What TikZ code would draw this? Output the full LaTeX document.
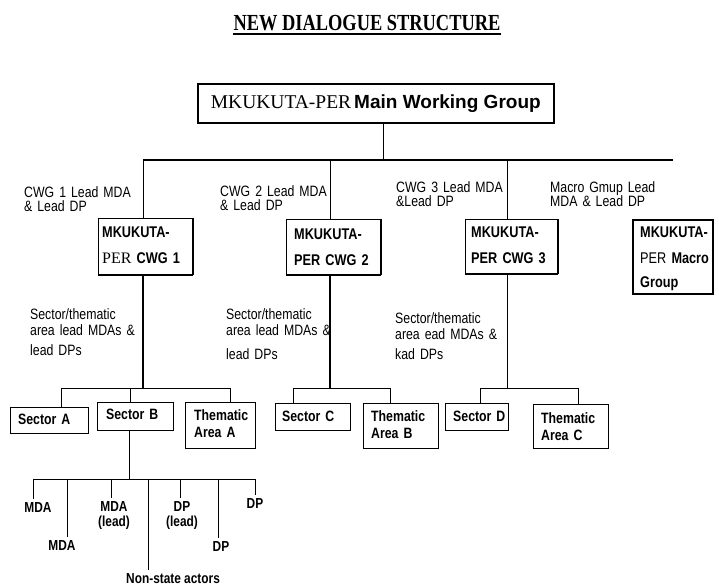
\documentclass[tikz,border=0pt]{standalone}
\usepackage{fontspec}
\setmainfont{Liberation Serif}
\newfontfamily\labfont[FakeStretch=0.82]{Liberation Sans}
\newfontfamily\mainsans{Liberation Sans}
\newfontfamily\titlefont[FakeStretch=0.8]{Liberation Serif}
\newfontfamily\serfont{Liberation Serif}
\newcommand\tightsp{\spaceskip=0.22em plus 0.05em\relax}
\begin{document}
\begin{tikzpicture}[x=1pt,y=-1pt,
  ln/.style={line width=0.9pt},
  tk/.style={line width=1.2pt},
  mainbox/.style={draw, line width=1.6pt, inner sep=0pt, anchor=north west},
  cbox/.style={draw, line width=1pt, inner sep=0pt, anchor=north west},
  sbox/.style={draw, line width=0.9pt, inner sep=0pt, anchor=north west},
  titlet/.style={font=\titlefont\bfseries\fontsize{23}{23}\selectfont, inner sep=0pt, anchor=base},
  lab/.style={font=\labfont\fontsize{15}{14}\selectfont\tightsp, align=left, text width=150pt, inner sep=0pt, anchor=base west},
  slab/.style={font=\labfont\fontsize{15}{16}\selectfont\tightsp, align=left, text width=150pt, inner sep=0pt, anchor=base west},
  btxt/.style={font=\labfont\bfseries\fontsize{15.5}{26}\selectfont\tightsp, align=left, text width=80pt, inner sep=0pt, anchor=base west},
  stxt/.style={font=\labfont\bfseries\fontsize{15}{17}\selectfont\tightsp, align=left, text width=70pt, inner sep=0pt, anchor=base west},
  ltxt/.style={font=\labfont\bfseries\fontsize{14.5}{15}\selectfont\tightsp, align=center, text width=40pt, inner sep=3pt, anchor=base},
  ntxt/.style={font=\labfont\bfseries\fontsize{14.5}{15}\selectfont\tightsp, inner sep=3pt, anchor=base west}
]
\fill[white] (0,0) rectangle (719,586);
\useasboundingbox (0,0) rectangle (719,586);

% title
\node[titlet] (title) at (367,31) {NEW DIALOGUE STRUCTURE};
\draw[line width=1.4pt] ([yshift=-3pt]title.base west) -- ([yshift=-3pt]title.base east);

% main box
\node[mainbox, minimum width=356pt, minimum height=39pt] (main) at (197,83)
  {{\serfont\fontsize{19.5}{19}\selectfont MKUKUTA-PER}\hspace{3pt}{\mainsans\bfseries\fontsize{19}{19}\selectfont Main Working Group}};

% CWG boxes
\node[cbox, minimum width=94pt, minimum height=56pt] (c1) at (98,218) {};
\node[btxt] (c1t) at (102,237) {MKUKUTA-\\{\serfont\mdseries\fontsize{16}{26}\selectfont PER} CWG 1};
\node[cbox, minimum width=94pt, minimum height=55pt] (c2) at (286,219) {};
\node[btxt] (c2t) at (294,239) {MKUKUTA-\\PER CWG 2};
\node[cbox, minimum width=92pt, minimum height=54pt] (c3) at (465,219) {};
\node[btxt] (c3t) at (471,237) {MKUKUTA-\\PER CWG 3};
\node[cbox, line width=1.6pt, minimum width=80pt, minimum height=74pt] (mac) at (632,219) {};
\node[btxt] (mact) at (640,237) {MKUKUTA-\\{\mdseries PER} Macro\\[-2pt]Group};
\foreach \b in {c1,c2,c3}{\draw[line width=2.4pt] (\b.south west) -- (\b.south east);}
\foreach \b in {c1,c2,c3}{\draw[line width=1.5pt] (\b.north east) -- (\b.south east);}

% CWG labels
\node[lab] (l1) at (24,197) {CWG 1 Lead MDA\\\& Lead DP};
\node[lab] (l2) at (220,196) {CWG 2 Lead MDA\\\& Lead DP};
\node[lab] (l3) at (396,192) {CWG 3 Lead MDA\\\&Lead DP};
\node[lab] (l4) at (550,192) {Macro Gmup Lead\\MDA \& Lead DP};

% top connectors
\coordinate (j0) at (383,160);
\coordinate (bL) at (143,160);
\coordinate (b2) at (330,160);
\coordinate (b3) at (507,160);
\coordinate (bR) at (673,160);
\draw[ln] (main.south -| j0) -- (j0);
\draw[tk] (bL) -- (bR);
\draw[ln] (bL) -- (bL |- c1.north);
\draw[ln] (b2) -- (b2 |- c2.north);
\draw[ln] (b3) -- (b3 |- c3.north);

% sector labels
\node[slab] (s1) at (30,319) {Sector/thematic\\area lead MDAs \&\\[4pt]lead DPs};
\node[slab] (s2) at (226,319) {Sector/thematic\\area lead MDAs \&\\[8pt]lead DPs};
\node[slab] (s3) at (395,323) {Sector/thematic\\area ead MDAs \&\\[4pt]kad DPs};

% sector boxes
\node[sbox, minimum width=78pt, minimum height=26pt] (secA) at (10,407) {};
\node[stxt] (secAt) at (18,424) {Sector A};
\node[sbox, minimum width=76pt, minimum height=28pt] (secB) at (97,402) {};
\node[stxt] (secBt) at (106,419) {Sector B};
\node[sbox, minimum width=70pt, minimum height=46pt] (thA) at (185,402) {};
\node[stxt] (thAt) at (194,420) {Thematic\\Area A};
\node[sbox, minimum width=75pt, minimum height=27pt] (secC) at (275,403) {};
\node[stxt] (secCt) at (282,421) {Sector C};
\node[sbox, minimum width=75pt, minimum height=45pt] (thB) at (363,403) {};
\node[stxt] (thBt) at (371,421) {Thematic\\Area B};
\node[sbox, minimum width=63pt, minimum height=27pt] (secD) at (445,403) {};
\node[stxt] (secDt) at (453,421) {Sector D};
\node[sbox, minimum width=75pt, minimum height=44pt] (thC) at (533,404) {};
\node[stxt] (thCt) at (541,423) {Thematic\\Area C};

% CWG brackets
\coordinate (d1) at (143,388);
\coordinate (d1a) at (61,388);
\coordinate (d1b) at (130,388);
\coordinate (d1c) at (230,388);
\draw[tk] (d1 |- c1.south) -- (d1);
\draw[ln] (d1a |- secA.north) -- (d1a) -- (d1c) -- (d1c |- thA.north);
\draw[ln] (d1b) -- (d1b |- secB.north);

\coordinate (d2) at (330,388);
\coordinate (d2a) at (293,388);
\coordinate (d2b) at (390,388);
\draw[tk] (d2 |- c2.south) -- (d2);
\draw[ln] (d2a |- secC.north) -- (d2a) -- (d2b) -- (d2b |- thB.north);

\coordinate (d3) at (507,388);
\coordinate (d3a) at (480,388);
\coordinate (d3b) at (578,388);
\draw[ln] (d3 |- c3.south) -- (d3);
\draw[ln] (d3a |- secD.north) -- (d3a) -- (d3b) -- (d3b |- thC.north);

% Sector B members
\node[ltxt] (m1) at (38,512) {MDA};
\node[ltxt] (m2) at (62,550) {MDA};
\node[ltxt] (m3) at (114,511) {MDA\\(lead)};
\node[ntxt] (m4) at (123,583) {Non-state actors};
\node[ltxt] (m5) at (182,511) {DP\\(lead)};
\node[ltxt] (m6) at (221,551) {DP};
\node[ltxt] (m7) at (255,508) {DP};

\coordinate (e0) at (129,479);
\coordinate (e1) at (33,479);
\coordinate (e2) at (67,479);
\coordinate (e3) at (111,479);
\coordinate (e4) at (148,479);
\coordinate (e5) at (180,479);
\coordinate (e6) at (218,479);
\coordinate (e7) at (255,479);
\draw[ln] (e0 |- secB.south) -- (e0);
\draw[ln] (e1) -- (e7);
\draw[ln] (e1) -- (e1 |- m1.north);
\draw[ln] (e2) -- (e2 |- m2.north);
\draw[ln] (e3) -- (e3 |- m3.north);
\draw[ln] (e4) -- (e4 |- m4.north);
\draw[ln] (e5) -- (e5 |- m5.north);
\draw[ln] (e6) -- (e6 |- m6.north);
\draw[ln] (e7) -- (e7 |- m7.north);
\end{tikzpicture}
\end{document}
